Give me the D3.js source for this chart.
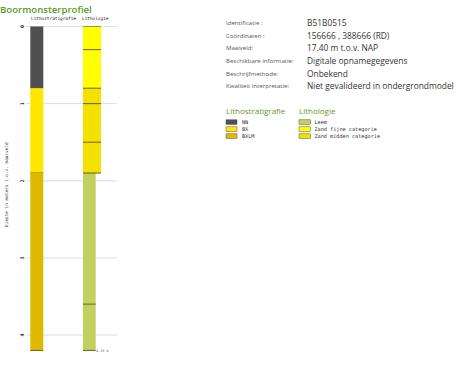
<!DOCTYPE html>
<html><head><meta charset="utf-8">
<script src="https://cdn.jsdelivr.net/npm/d3@7"></script>
<style>
html,body{margin:0;padding:0;background:#fff;}
svg{display:block;}
</style></head>
<body>
<svg id="c" width="469" height="368"></svg>
<script>
// ---- data ----
const stratTop = [0, 0.8, 1.9];
const stratBottom = [0.8, 1.9, 4.2];
const stratCode = ["NN", "BX", "BXLM"];
const lithTop = [0, 0.3, 0.8, 1.0, 1.5, 1.9, 3.6];
const lithBottom = [0.3, 0.8, 1.0, 1.5, 1.9, 3.6, 4.2];
const lithCode = ["Zand fijne categorie","Zand fijne categorie","Zand midden categorie","Zand midden categorie","Zand midden categorie","Leem","Leem"];
const depthTicks = [0, 1, 2, 3, 4];
const stratLegend = ["NN", "BX", "BXLM"];
const lithLegend = ["Leem", "Zand fijne categorie", "Zand midden categorie"];
const infoLabels = ["Identificatie :", "Coördinaten :", "Maaiveld:", "Beschikbare informatie:", "Beschrijfmethode:", "Kwaliteit interpretatie:"];
const infoValues = ["B51B0515", "156666 , 388666 (RD)", "17.40 m t.o.v. NAP", "Digitale opnamegegevens", "Onbekend", "Niet gevalideerd in ondergrondmodel"];
const endDepth = 4.2;

const stratColor = d3.scaleOrdinal().domain(["NN","BX","BXLM"]).range(["#505050","#ffe600","#dfb900"]);
const lithColor = d3.scaleOrdinal().domain(["Leem","Zand fijne categorie","Zand midden categorie"]).range(["#c3cf5f","#ffff00","#f3e100"]);
const lithWidth = d3.scaleOrdinal().domain(["Leem","Zand fijne categorie","Zand midden categorie"]).range([12.7, 18, 18]);

const svg = d3.select("#c");
const mono = "'DejaVu Sans Mono', monospace";
const sans = "'Open Sans', sans-serif";
const green = "#5a9a2c";

svg.append("text").attr("x", 0).attr("y", 12.5).text("Boormonsterprofiel")
  .attr("font-family", sans).attr("font-weight", 600).attr("font-size", 9.6).attr("fill", green);

const y = d3.scaleLinear().domain([0, 4]).range([26.5, 335]);

// grid
const g = svg.append("g");
g.selectAll("line.grid").data(depthTicks).join("line")
  .attr("x1", 26).attr("x2", 117).attr("y1", d => y(d)).attr("y2", d => y(d))
  .attr("stroke", "#dcdcdc").attr("stroke-width", 1);
g.selectAll("text.tick").data(depthTicks).join("text")
  .attr("transform", d => `translate(24.5,${y(d)}) rotate(-90)`)
  .attr("text-anchor", "middle").attr("dy", "-0.1em")
  .attr("font-family", mono).attr("font-weight", 700).attr("font-size", 5).attr("fill", "#333").text(d => d);
svg.append("text").attr("transform", `translate(8,${(y(1.5)+y(2.6))/2}) rotate(-90)`)
  .attr("text-anchor", "middle").attr("font-family", mono).attr("font-size", 4.4).attr("fill", "#333")
  .text("Diepte in meters t.o.v. maaiveld");

// headers
svg.append("text").attr("x", 31).attr("y", 20).text("Lithostratigrafie")
  .attr("font-family", mono).attr("font-size", 4.4).attr("fill", "#222");
svg.append("text").attr("x", 82).attr("y", 20).text("Lithologie")
  .attr("font-family", mono).attr("font-size", 4.4).attr("fill", "#222");

// strat column
const sx = 30.3, sw = 13;
stratCode.forEach((c, i) => {
  svg.append("rect").attr("x", sx).attr("y", y(stratTop[i])).attr("width", sw)
    .attr("height", y(stratBottom[i]) - y(stratTop[i])).attr("fill", stratColor(c));
  svg.append("line").attr("x1", sx).attr("x2", sx + sw).attr("y1", y(stratBottom[i])).attr("y2", y(stratBottom[i]))
    .attr("stroke", "#6b5e1a").attr("stroke-width", 1);
});
// lith column
const lx = 83;
lithCode.forEach((c, i) => {
  svg.append("rect").attr("x", lx).attr("y", y(lithTop[i])).attr("width", lithWidth(c))
    .attr("height", y(lithBottom[i]) - y(lithTop[i])).attr("fill", lithColor(c));
});
lithCode.forEach((c, i) => {
  const w = Math.max(lithWidth(c), i + 1 < lithCode.length ? lithWidth(lithCode[i+1]) : 0);
  svg.append("line").attr("x1", lx).attr("x2", lx + w).attr("y1", y(lithBottom[i])).attr("y2", y(lithBottom[i]))
    .attr("stroke", "#6b5e1a").attr("stroke-width", 1);
});
svg.append("line").attr("x1", lx).attr("x2", lx + lithWidth(lithCode[0])).attr("y1", y(0)).attr("y2", y(0))
  .attr("stroke", "#8a7c20").attr("stroke-width", 0.8);
svg.append("text").attr("x", 96).attr("y", y(endDepth) + 1.5).text("4.20 m")
  .attr("font-family", mono).attr("font-size", 3.5).attr("fill", "#777");

// info table
const rowY = [23, 35.8, 48.4, 61, 73.6, 86.2];
infoLabels.forEach((t, i) => {
  svg.append("text").attr("x", 226).attr("y", rowY[i] + 2).text(t)
    .attr("font-family", sans).attr("font-size", 6.1).attr("fill", "#555");
  svg.append("text").attr("x", 307).attr("y", rowY[i] + 3).text(infoValues[i])
    .attr("font-family", sans).attr("font-size", 8.4).attr("fill", "#333");
});

// legends
svg.append("text").attr("x", 226).attr("y", 114).text("Lithostratigrafie")
  .attr("font-family", sans).attr("font-size", 8).attr("fill", green);
svg.append("text").attr("x", 299).attr("y", 114).text("Lithologie")
  .attr("font-family", sans).attr("font-size", 8).attr("fill", green);
const legY = [122, 129, 136];
stratLegend.forEach((c, i) => {
  svg.append("rect").attr("x", 226).attr("y", legY[i] - 2.2).attr("width", 11).attr("height", 4.6)
    .attr("fill", stratColor(c)).attr("stroke", "#555").attr("stroke-width", 0.5);
  svg.append("text").attr("x", 242).attr("y", legY[i] + 1.6).text(c)
    .attr("font-family", mono).attr("font-size", 5.2).attr("fill", "#333");
});
lithLegend.forEach((c, i) => {
  svg.append("rect").attr("x", 299).attr("y", legY[i] - 2.2).attr("width", 11.5).attr("height", 4.6)
    .attr("fill", lithColor(c)).attr("stroke", "#555").attr("stroke-width", 0.5);
  svg.append("text").attr("x", 314.5).attr("y", legY[i] + 1.6).text(c)
    .attr("font-family", mono).attr("font-size", 5.2).attr("fill", "#333");
});
</script>
</body></html>
